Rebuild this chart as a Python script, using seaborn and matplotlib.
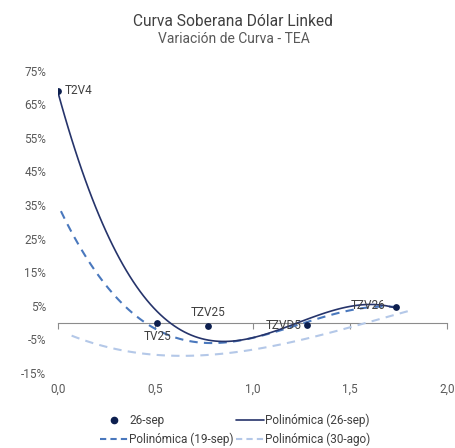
import numpy as np
import pandas as pd
import matplotlib
matplotlib.use("Agg")
import matplotlib.pyplot as plt
from matplotlib.lines import Line2D
import seaborn as sns

# Bonds on the 26-sep curve: duration (years) and TEA (%)
bonds = ["T2V4", "TV25", "TZV25", "TZVD5", "TZV26"]
duration = [0.0, 0.51, 0.77, 1.28, 1.74]
tea_26sep = [69.0, 0.0, -1.0, -0.8, 4.7]

# Earlier curves (polynomial trend), sampled along duration
dur_19sep = [0.015, 0.215, 0.455, 0.61, 0.73, 0.9, 1.07, 1.24, 1.41, 1.67, 1.74]
tea_19sep = [33.0, 13.8, 0.0, -5.0, -6.0, -6.0, -3.0, -0.5, 2.4, 4.4, 4.9]
dur_30ago = [0.07, 0.215, 0.39, 0.56, 0.73, 0.9, 1.24, 1.58, 1.81]
tea_30ago = [-3.6, -7.0, -9.0, -9.7, -10.0, -8.5, -5.0, -0.8, 3.9]

y_ticks = [-15, -5, 5, 15, 25, 35, 45, 55, 65, 75]
x_ticks = [0.0, 0.5, 1.0, 1.5, 2.0]
x_tick_labels = ["0,0", "0,5", "1,0", "1,5", "2,0"]

NAVY = "#0d1f4f"
NAVY_LINE = "#26346b"
MID_BLUE = "#4a78bd"
LIGHT_BLUE = "#b4c8e8"
TEXT = "#404040"
TICK = "#595959"

sns.set_theme(style="white")
plt.rcParams["font.family"] = ["Roboto", "DejaVu Sans"]

df26 = pd.DataFrame({"bono": bonds, "dur": duration, "tea": tea_26sep})
df19 = pd.DataFrame({"dur": dur_19sep, "tea": tea_19sep})
df30 = pd.DataFrame({"dur": dur_30ago, "tea": tea_30ago})

fig = plt.figure(figsize=(4.56, 4.48), dpi=100)
ax = fig.add_axes([58 / 456, 1 - 373 / 448, (447 - 58) / 456, (373 - 70.7) / 448])

sns.regplot(data=df30, x="dur", y="tea", order=3, ci=None, scatter=False,
            truncate=True, ax=ax,
            line_kws=dict(color=LIGHT_BLUE, lw=1.5, ls=(0, (4, 3))))
sns.regplot(data=df19, x="dur", y="tea", order=3, ci=None, scatter=False,
            truncate=True, ax=ax,
            line_kws=dict(color=MID_BLUE, lw=1.5, ls=(0, (4, 3))))
sns.regplot(data=df26, x="dur", y="tea", order=3, ci=None, scatter=False,
            truncate=True, ax=ax,
            line_kws=dict(color=NAVY_LINE, lw=1.2))
sns.scatterplot(data=df26, x="dur", y="tea", ax=ax, color=NAVY, s=24,
                edgecolor=NAVY, linewidth=0, zorder=5)

# bond labels
offsets = {
    "T2V4": ((5, 0), "left", "center"),
    "TV25": ((0, -5), "center", "top"),
    "TZV25": ((0, 5), "center", "bottom"),
    "TZVD5": ((-4, 0), "right", "center"),
    "TZV26": ((-8, 1), "right", "center"),
}
for b, xv, yv in zip(bonds, duration, tea_26sep):
    (dx, dy), ha, va = offsets[b]
    ax.annotate(b, (xv, yv), xytext=(dx, dy), textcoords="offset points",
                ha=ha, va=va, fontsize=8.5, color=TEXT)

ax.set_xlim(0, 2.0)
ax.set_ylim(-15, 75)
ax.set_yticks(y_ticks)
ax.set_yticklabels([f"{v}%" for v in y_ticks])
ax.set_xticks(x_ticks)
ax.set_xticklabels(x_tick_labels)
ax.tick_params(axis="both", length=0, labelsize=8.5, colors=TICK)
ax.tick_params(axis="y", pad=8.5)
ax.tick_params(axis="x", pad=7)
ax.set_xlabel("")
ax.set_ylabel("")
for s in ax.spines.values():
    s.set_visible(False)

# horizontal axis line crossing at 0% with outward ticks
sec = ax.secondary_xaxis(15 / 90)
sec.set_xticks(x_ticks)
sec.tick_params(axis="x", direction="out", length=4, width=0.8,
                color="#8c8c8c", labelbottom=False, labeltop=False,
                top=False, bottom=True)
for name, s in sec.spines.items():
    s.set_visible(name == "bottom")
sec.spines["bottom"].set_color("#8c8c8c")
sec.spines["bottom"].set_linewidth(0.8)

fig.text(233 / 456, 1 - 21 / 448, "Curva Soberana Dólar Linked",
         ha="center", va="center", fontsize=11.2, color=TEXT)
fig.text(234 / 456, 1 - 39 / 448, "Variación de Curva - TEA",
         ha="center", va="center", fontsize=10, color=TICK)

handles = [
    Line2D([], [], ls="none", marker="o", ms=4.5, color=NAVY, label="26-sep"),
    Line2D([], [], color=MID_BLUE, lw=1.5, ls=(0, (3, 2)), label="Polinómica (19-sep)"),
    Line2D([], [], color=NAVY_LINE, lw=1.2, label="Polinómica (26-sep)"),
    Line2D([], [], color=LIGHT_BLUE, lw=1.5, ls=(0, (3, 2)), label="Polinómica (30-ago)"),
]
fig.legend(handles=handles, ncol=2, loc="center",
           bbox_to_anchor=(235 / 456, 1 - 430 / 448), frameon=False,
           fontsize=8.5, labelcolor=TEXT, handlelength=2.35,
           handletextpad=0.1, columnspacing=0.2, labelspacing=0.45,
           borderpad=0)

fig.savefig("out.png", dpi=100)
